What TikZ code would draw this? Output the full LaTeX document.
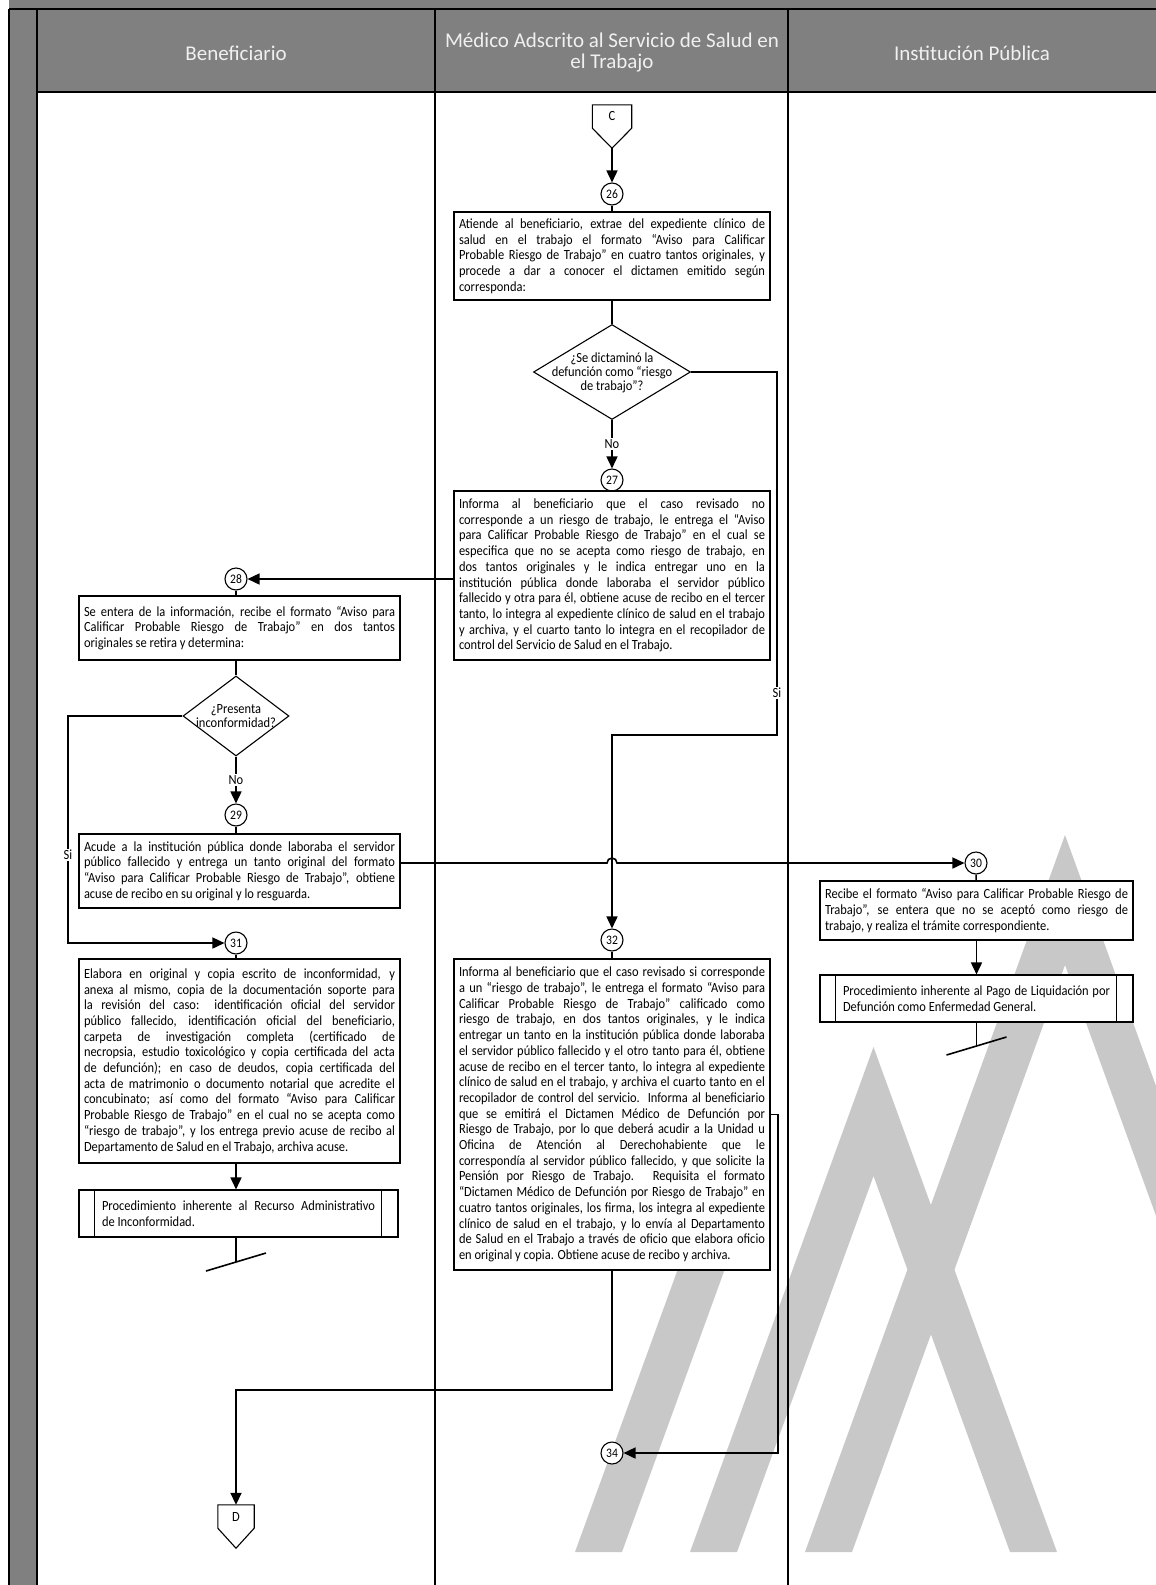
\documentclass[tikz,border=0pt]{standalone}
\usepackage{fontspec}
\setmainfont{Carlito}[FakeStretch=0.89]
\newfontfamily\fuentetitulo{Carlito}
\usetikzlibrary{arrows.meta, shapes.geometric}
\definecolor{encabezado}{RGB}{128,128,128}
\definecolor{marca}{RGB}{200,200,200}
\tolerance=10000
\hbadness=10000
\hyphenpenalty=10000
\exhyphenpenalty=10000
\tikzset{
	>={Triangle[length=12pt, width=11pt]}, % filled arrow heads
	linea/.style={line width=1.6pt}, % plain connector
	flecha/.style={linea, ->}, % connector with arrow head
	carril/.style={line width=1.8pt}, % lane borders
	actividad/.style={draw, fill=white, line width=1.1pt, inner xsep=5pt, inner ysep=4pt, align=justify, font=\fontsize{14}{15.7}\selectfont}, % activity box
	subproceso/.style={actividad, inner xsep=23pt}, % predefined process
	decision/.style={diamond, draw, fill=white, line width=1.1pt, inner sep=0pt}, % decision, sized by hand
	pregunta/.style={align=center, font=\fontsize{14}{13.8}\selectfont}, % text of a decision
	paso/.style={circle, draw, fill=white, line width=1.1pt, minimum size=22pt, inner sep=0pt, font=\fontsize{13}{13}\selectfont}, % step number
	etiqueta/.style={fill=white, inner sep=1.5pt, font=\fontsize{14}{14}\selectfont}, % Si / No
	conector/.style={minimum width=39pt, minimum height=23pt, inner sep=0pt, font=\fontsize{14}{14}\selectfont}, % off-page connector
	titulo/.style={text=white!94!black, align=center, font=\fuentetitulo\fontsize{21}{21}\selectfont}, % lane titles
}

\begin{document}
\begin{tikzpicture}[x=1pt, y=-1pt]
	\useasboundingbox (0,0) rectangle (1156,1585);
	% marca de agua
	\begin{scope}
		\clip (0,0) rectangle (1156,1585);
		\fill[marca] (575,1552) -- (622,1552) -- (750,1200) -- (703,1200) -- cycle;
		\fill[marca] (690,1552) -- (873.5,1047) -- (1057,1552) -- (1010,1552) -- (873.5,1176) -- (737,1552) -- cycle;
		\fill[marca] (805,1552) -- (1065,835) -- (1325,1552) -- (1278,1552) -- (1065,965) -- (852,1552) -- cycle;
	\end{scope}
	% carriles
	\fill[encabezado] (9,0) rectangle (1156,9);
	\fill[encabezado] (9,9) rectangle (37,1585);
	\fill[encabezado] (37,9) rectangle (1156,92);
	\draw[carril] (9,9) -- (1156,9) (37,92) -- (1156,92);
	\foreach \x in {9,37,435,788} \draw[carril] (\x,9) -- (\x,1585);
	\node[titulo] (tBen) at (236,53) {Beneficiario};
	\node[titulo] (tMed) at (612,53) {Médico Adscrito al Servicio de Salud en\\el Trabajo};
	\node[titulo] (tIns) at (972,53) {Institución Pública};

	% Medico
	\node[conector] (cC) at (612,116.5) {C};
	\node[paso] (p26) at (612,194) {26};
	\node[actividad, text width=306pt, minimum height=88pt] (a26) at (612,256) {Atiende al beneficiario, extrae del expediente clínico de\linebreak salud en el trabajo el formato “Aviso para Calificar\linebreak Probable Riesgo de Trabajo” en cuatro tantos originales, y\linebreak procede a dar a conocer el dictamen emitido según\linebreak corresponda:};
	\node[decision, minimum width=157pt, minimum height=95pt] (d1) at (612,372) {};
	\node[pregunta] (d1t) at (612,373) {¿Se dictaminó la\\defunción como “riesgo\\de trabajo”?};
	\node[paso] (p27) at (612,480) {27};
	\node[actividad, text width=306pt, minimum height=169pt] (a27) at (612,575.5) {Informa al beneficiario que el caso revisado no\linebreak corresponde a un riesgo de trabajo, le entrega el “Aviso\linebreak para Calificar Probable Riesgo de Trabajo” en el cual se\linebreak especifica que no se acepta como riesgo de trabajo, en\linebreak dos tantos originales y le indica entregar uno en la\linebreak institución pública donde laboraba el servidor público\linebreak fallecido y otra para él, obtiene acuse de recibo en el tercer\linebreak tanto, lo integra al expediente clínico de salud en el trabajo\linebreak y archiva, y el cuarto tanto lo integra en el recopilador de\linebreak control del Servicio de Salud en el Trabajo.};
	\node[paso] (p32) at (612,940) {32};
	\node[actividad, text width=306pt, minimum height=311pt] (a32) at (612,1114.5) {Informa al beneficiario que el caso revisado si corresponde\linebreak a un “riesgo de trabajo”, le entrega el formato “Aviso para\linebreak Calificar Probable Riesgo de Trabajo” calificado como\linebreak riesgo de trabajo, en dos tantos originales, y le indica\linebreak entregar un tanto en la institución pública donde laboraba\linebreak el servidor público fallecido y el otro tanto para él, obtiene\linebreak acuse de recibo en el tercer tanto, lo integra al expediente\linebreak clínico de salud en el trabajo, y archiva el cuarto tanto en el\linebreak recopilador de control del servicio. Informa al beneficiario\linebreak que se emitirá el Dictamen Médico de Defunción por\linebreak Riesgo de Trabajo, por lo que deberá acudir a la Unidad u\linebreak Oficina de Atención al Derechohabiente que le\linebreak correspondía al servidor público fallecido, y que solicite la\linebreak Pensión por Riesgo de Trabajo. Requisita el formato\linebreak “Dictamen Médico de Defunción por Riesgo de Trabajo” en\linebreak cuatro tantos originales, los firma, los integra al expediente\linebreak clínico de salud en el trabajo, y lo envía al Departamento\linebreak de Salud en el Trabajo a través de oficio que elabora oficio\linebreak en original y copia. Obtiene acuse de recibo y archiva.};
	\node[paso] (p34) at (612,1453) {34};

	% Beneficiario
	\node[paso] (p28) at (236,579) {28};
	\node[actividad, text width=311pt, minimum height=64pt] (a28) at (239.5,628) {Se entera de la información, recibe el formato “Aviso para\linebreak Calificar Probable Riesgo de Trabajo” en dos tantos\linebreak originales se retira y determina:};
	\node[decision, minimum width=106pt, minimum height=80pt] (d2) at (236,716) {};
	\node[pregunta] (d2t) at (236,716) {¿Presenta\\inconformidad?};
	\node[paso] (p29) at (236,815) {29};
	\node[actividad, text width=311pt, minimum height=74pt] (a29) at (239.5,871) {Acude a la institución pública donde laboraba el servidor\linebreak público fallecido y entrega un tanto original del formato\linebreak “Aviso para Calificar Probable Riesgo de Trabajo”, obtiene\linebreak acuse de recibo en su original y lo resguarda.};
	\node[paso] (p31) at (236,943) {31};
	\node[actividad, text width=311pt, minimum height=204pt] (a31) at (239.5,1061) {Elabora en original y copia escrito de inconformidad, y\linebreak anexa al mismo, copia de la documentación soporte para\linebreak la revisión del caso: identificación oficial del servidor\linebreak público fallecido, identificación oficial del beneficiario,\linebreak carpeta de investigación completa (certificado de\linebreak necropsia, estudio toxicológico y copia certificada del acta\linebreak de defunción); en caso de deudos, copia certificada del\linebreak acta de matrimonio o documento notarial que acredite el\linebreak concubinato; así como del formato “Aviso para Calificar\linebreak Probable Riesgo de Trabajo” en el cual no se acepta como\linebreak “riesgo de trabajo”, y los entrega previo acuse de recibo al\linebreak Departamento de Salud en el Trabajo, archiva acuse.};
	\node[subproceso, text width=273pt, minimum height=47pt] (a31b) at (238.5,1213.5) {Procedimiento inherente al Recurso Administrativo\linebreak de Inconformidad.};
	\node[conector, minimum width=36pt] (cD) at (236,1516.5) {D};

	% Institucion
	\node[paso] (p30) at (976,863) {30};
	\node[actividad, text width=303pt, minimum height=59pt] (a30) at (976.5,910.5) {Recibe el formato “Aviso para Calificar Probable Riesgo de\linebreak Trabajo”, se entera que no se aceptó como riesgo de\linebreak trabajo, y realiza el trámite correspondiente.};
	\node[subproceso, text width=267pt, minimum height=47pt] (a30b) at (976.5,998.5) {Procedimiento inherente al Pago de Liquidación por\linebreak Defunción como Enfermedad General.};

	% formas auxiliares
	\foreach \c in {cC,cD} \draw[line width=1.1pt] (\c.north west) -- (\c.north east) -- (\c.south east) -- ([yshift=-20pt]\c.south) -- (\c.south west) -- cycle;
	\foreach \n in {a30b,a31b} \draw[line width=1.1pt] ([xshift=16pt]\n.north west) -- ([xshift=16pt]\n.south west) ([xshift=-17pt]\n.north east) -- ([xshift=-17pt]\n.south east);
	\coordinate (cCpunta) at ([yshift=-20pt]cC.south);
	\coordinate (salto) at (p32 |- p30);
	\coordinate (fin30) at (976.5,1046);
	\coordinate (fin31) at (236,1262);

	% conectores
	\draw[flecha] (cCpunta) -- (p26);
	\draw[linea] (p26) -- (a26);
	\draw[linea] (a26) -- (d1);
	\draw[flecha] (d1) -- node[etiqueta] {No} (p27);
	\draw[linea] (p27) -- (a27);
	\draw[flecha] (d1.east) -- (777,372) -- (777,693) node[etiqueta] {Si} -- (777,735) -- (612,735) -- (p32);
	\draw[flecha] (a27.west |- p28) -- (p28);
	\draw[linea] (p28) -- (p28 |- a28.north);
	\draw[linea] (p28 |- a28.south) -- (d2);
	\draw[flecha] (d2) -- node[etiqueta] {No} (p29);
	\draw[linea] (p29) -- (p29 |- a29.north);
	\draw[flecha] (d2.west) -- (68,716) -- (68,855) node[etiqueta] {Si} -- (68,943) -- (p31);
	\draw[flecha] (a29.east |- p30) -- ([xshift=-5pt]salto) arc[start angle=180, end angle=360, radius=5] -- (p30);
	\draw[linea] (p30) -- (a30);
	\draw[flecha] (a30) -- (a30b);
	\draw[linea] (a30b) -- (fin30);
	\draw[linea] ([shift={(-30pt,-9pt)}]fin30) -- ([shift={(30pt,9pt)}]fin30);
	\draw[linea] (p31) -- (p31 |- a31.north);
	\draw[flecha] (p31 |- a31.south) -- (p31 |- a31b.north);
	\draw[linea] (fin31 |- a31b.south) -- (fin31);
	\draw[linea] ([shift={(-30pt,-9pt)}]fin31) -- ([shift={(30pt,9pt)}]fin31);
	\draw[linea] (p32) -- (a32);
	\draw[flecha] (a32) -- (612,1390) -- (236,1390) -- (cD);
	\draw[flecha] (a32.east) -- (778,1114.5) -- (778,1453) -- (p34);
\end{tikzpicture}
\end{document}
